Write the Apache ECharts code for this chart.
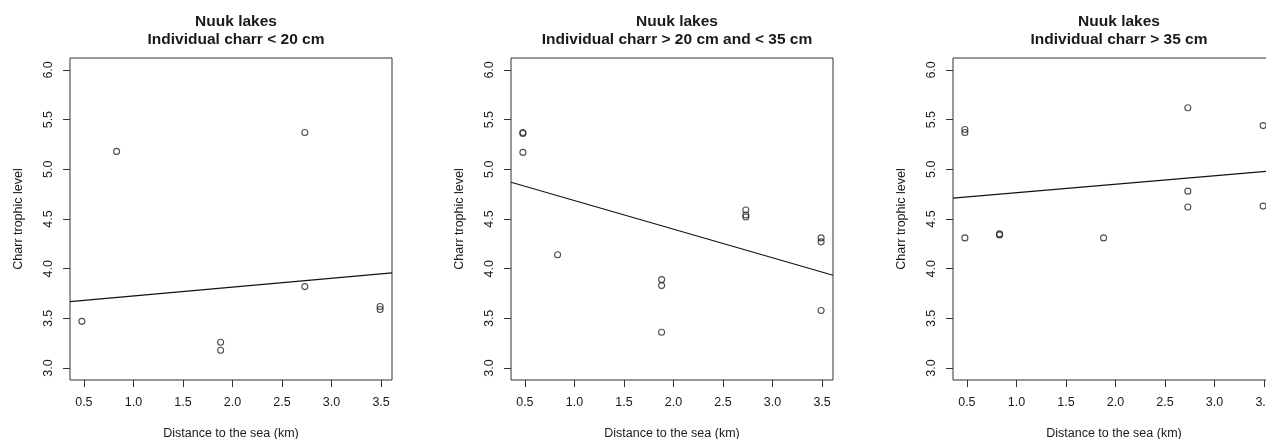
<!DOCTYPE html>
<html>
<head>
<meta charset="utf-8">
<script src="https://cdn.jsdelivr.net/npm/echarts@6/dist/echarts.min.js"></script>
<style>
  html, body { margin: 0; padding: 0; background: #fff; }
  #chart { width: 1266px; height: 439px; }
</style>
</head>
<body>
<div id="chart"></div>
<script>
// ---- data ----
const titles = [
  'Nuuk lakes\nIndividual charr < 20 cm',
  'Nuuk lakes\nIndividual charr > 20 cm and < 35 cm',
  'Nuuk lakes\nIndividual charr > 35 cm'
];
const xName = 'Distance to the sea (km)';
const yName = 'Charr trophic level';
const xTicks = [0.5, 1.0, 1.5, 2.0, 2.5, 3.0, 3.5];
const yTicks = [3.0, 3.5, 4.0, 4.5, 5.0, 5.5, 6.0];

const p1X = [0.48, 0.83, 1.88, 1.88, 2.73, 2.73, 3.49, 3.49];
const p1Y = [3.47, 5.18, 3.26, 3.18, 5.37, 3.82, 3.62, 3.59];

const p2X = [0.48, 0.48, 0.48, 0.83, 1.88, 1.88, 1.88, 2.73, 2.73, 2.73, 3.49, 3.49, 3.49];
const p2Y = [5.37, 5.36, 5.17, 4.14, 3.89, 3.83, 3.36, 4.59, 4.54, 4.52, 4.31, 4.27, 3.58];

const p3X = [0.48, 0.48, 0.48, 0.83, 0.83, 1.88, 2.73, 2.73, 2.73, 3.49, 3.49];
const p3Y = [5.40, 5.37, 4.31, 4.35, 4.34, 4.31, 5.62, 4.78, 4.62, 5.44, 4.63];

// fitted line: [intercept, slope]
const fit1 = [3.637, 0.089];
const fit2 = [4.973, -0.288];
const fit3 = [4.679, 0.0854];

// axis limits (data range extended 4% each side, as in R)
const xLim = [0.36, 3.61];
const yLim = [2.88, 6.12];

// ---- build ----
const panels = [
  { x: p1X, y: p1Y, fit: fit1 },
  { x: p2X, y: p2Y, fit: fit2 },
  { x: p3X, y: p3Y, fit: fit3 }
];
const gridLefts = [70, 511, 953];
const plotSize = 322;
const ink = '#1a1a1a';
const font = 'Liberation Sans, Arial, Helvetica, sans-serif';

const option = {
  backgroundColor: '#fff',
  animation: false,
  title: [],
  grid: [],
  xAxis: [],
  yAxis: [],
  series: []
};

panels.forEach((p, i) => {
  const left = gridLefts[i];
  option.title.push({
    text: titles[i],
    left: left + plotSize / 2,
    top: 8,
    textAlign: 'center',
    textStyle: { fontFamily: font, fontSize: 15.5, fontWeight: 'bold', color: ink, lineHeight: 18 }
  });
  option.grid.push({
    left: left, top: 58, width: plotSize, height: plotSize,
    outerBoundsMode: 'none', containLabel: false,
    show: true, borderColor: '#333', borderWidth: 1, backgroundColor: 'transparent'
  });
  option.xAxis.push({
    type: 'value', gridIndex: i, min: xLim[0], max: xLim[1],
    name: xName, nameLocation: 'middle', nameGap: 47,
    nameTextStyle: { fontFamily: font, fontSize: 12.5, color: ink },
    axisLine: { show: false },
    splitLine: { show: false },
    axisTick: { show: true, inside: false, length: 7, customValues: xTicks, lineStyle: { color: '#333', width: 1 } },
    axisLabel: { show: true, customValues: xTicks, margin: 16, fontFamily: font, fontSize: 12.5, color: ink,
      hideOverlap: false, formatter: v => v.toFixed(1) }
  });
  option.yAxis.push({
    type: 'value', gridIndex: i, min: yLim[0], max: yLim[1],
    name: yName, nameLocation: 'middle', nameGap: 45,
    nameTextStyle: { fontFamily: font, fontSize: 12.5, color: ink },
    axisLine: { show: false },
    splitLine: { show: false },
    axisTick: { show: true, inside: false, length: 7, customValues: yTicks, lineStyle: { color: '#333', width: 1 } },
    axisLabel: { show: true, customValues: yTicks, rotate: 90, margin: 15, fontFamily: font, fontSize: 12.5, color: ink,
      hideOverlap: false, formatter: v => v.toFixed(1) }
  });
  option.series.push({
    type: 'scatter', xAxisIndex: i, yAxisIndex: i,
    data: p.x.map((xv, k) => [xv, p.y[k]]),
    symbol: 'circle', symbolSize: 6,
    itemStyle: { color: 'rgba(0,0,0,0)', borderColor: '#222', borderWidth: 1.1 },
    z: 3
  });
  option.series.push({
    type: 'line', xAxisIndex: i, yAxisIndex: i,
    data: xLim.map(xv => [xv, p.fit[0] + p.fit[1] * xv]),
    showSymbol: false, clip: true,
    lineStyle: { color: '#111', width: 1.1 },
    z: 2
  });
});

const chart = echarts.init(document.getElementById('chart'), null, { renderer: 'canvas' });
chart.setOption(option);
</script>
</body>
</html>
